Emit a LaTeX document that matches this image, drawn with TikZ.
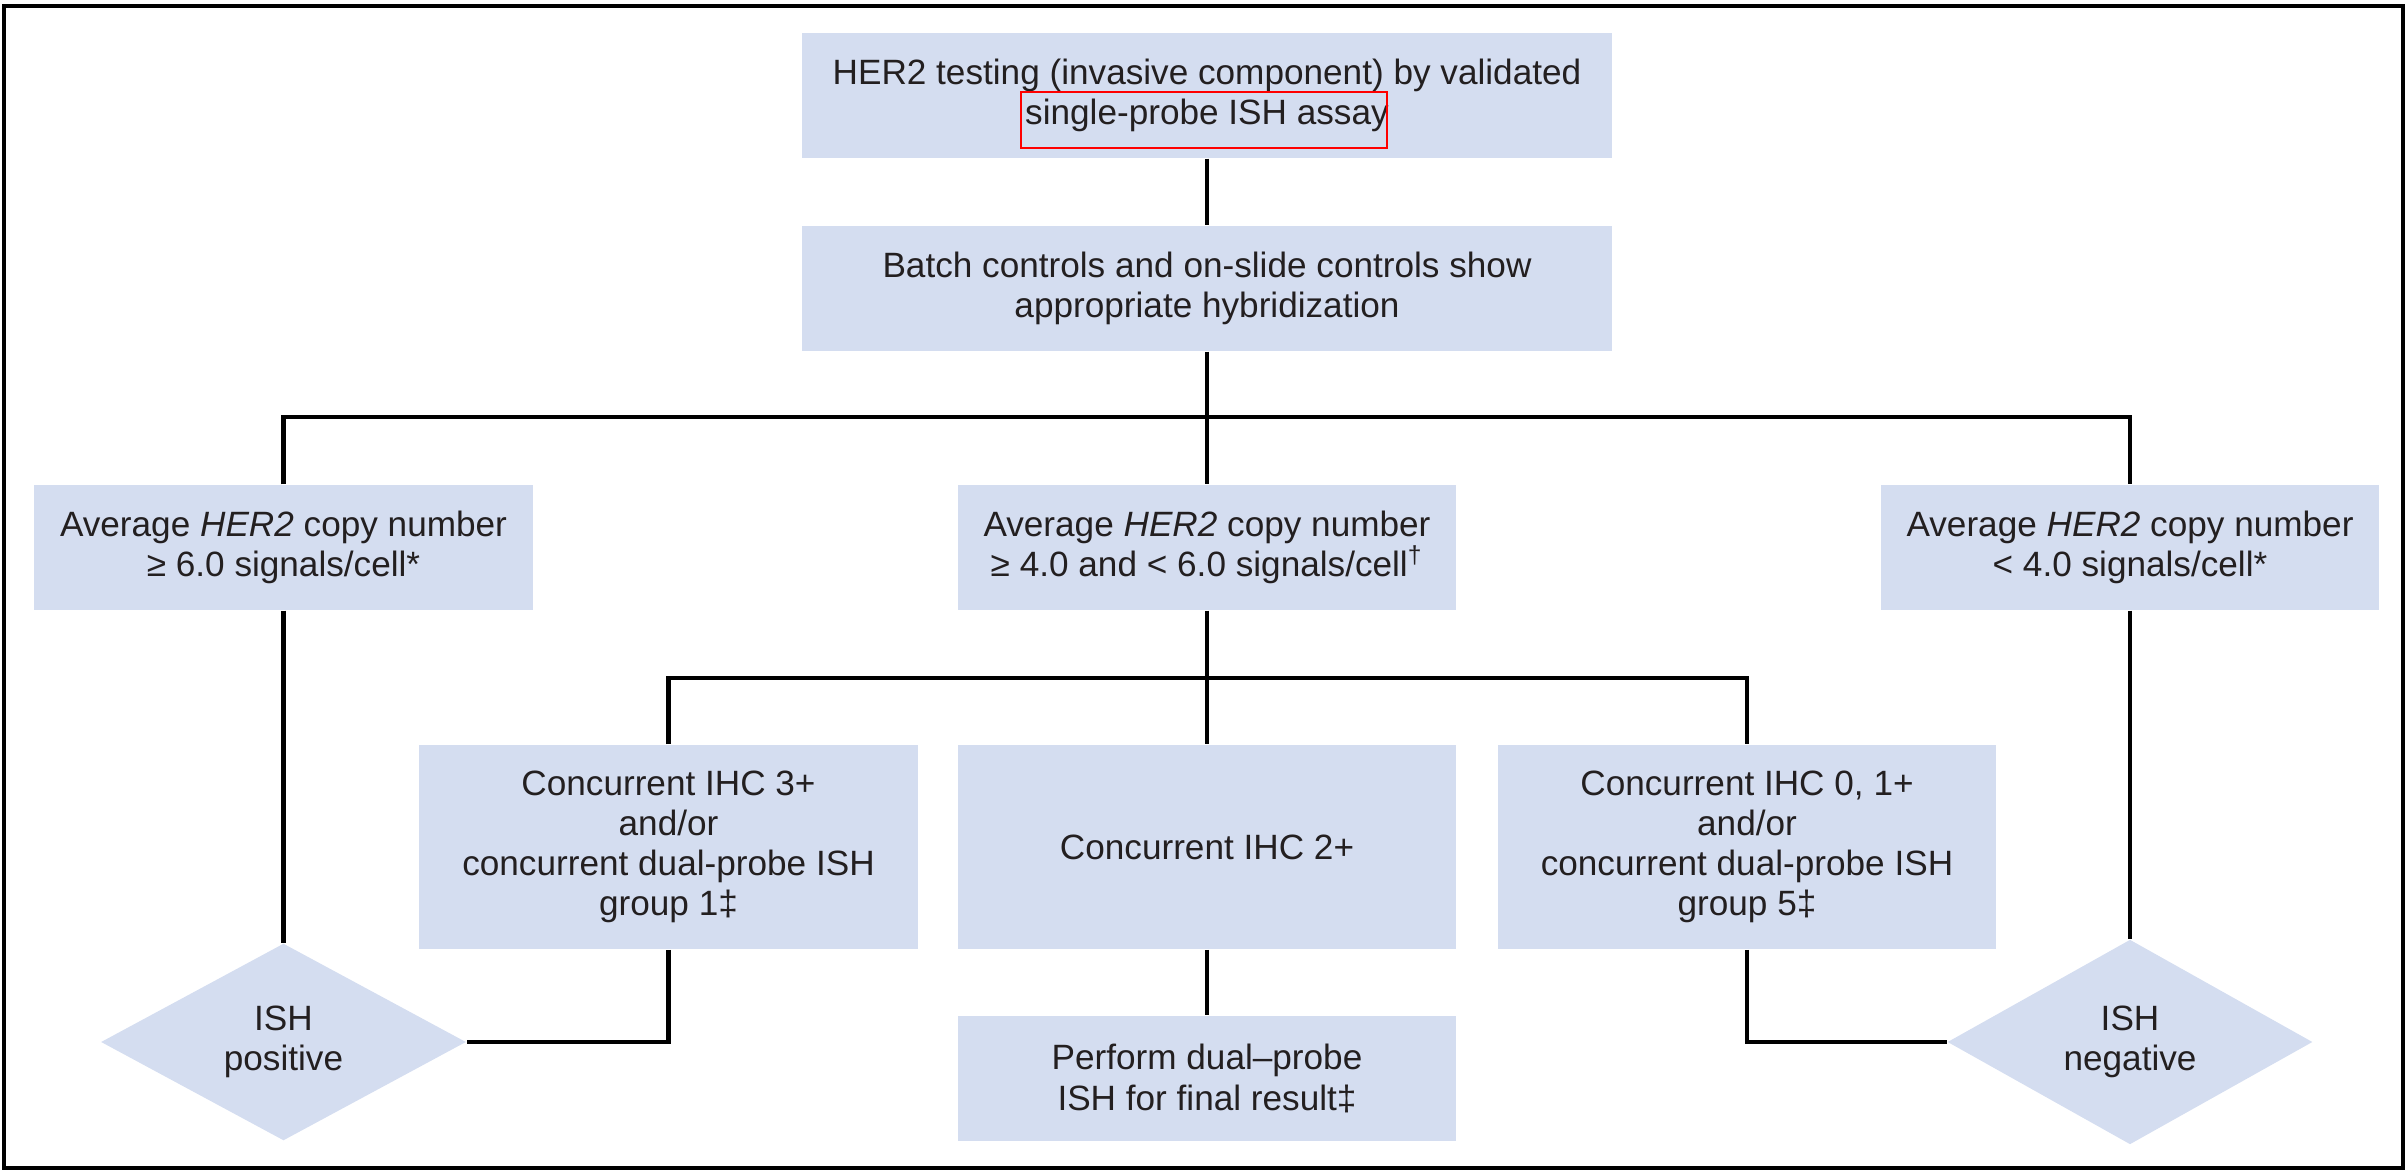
\documentclass[tikz,border=0pt]{standalone}
\usepackage{fontspec}
\setmainfont{Liberation Sans}
\usetikzlibrary{shapes.geometric}
\definecolor{boxfill}{RGB}{212,221,240}
\definecolor{ink}{RGB}{35,31,32}
\begin{document}
\begin{tikzpicture}[x=0.01cm,y=-0.01cm,
    font=\fontsize{10}{11.4}\selectfont, text=ink,
    box/.style={fill=boxfill, align=center, inner sep=0pt,
      minimum width=4.98cm, minimum height=1.25cm},
    decision/.style={diamond, fill=boxfill, align=center, inner sep=0pt,
      minimum width=3.65cm, minimum height=1.97cm},
    link/.style={line width=1.35pt, draw=black}]
    \useasboundingbox (0,0) rectangle (2407,1174);
    \draw[line width=0.9pt] (4,6) rectangle (2403,1168);
    % top of the chart
    \node[box, minimum width=8.1cm] (test) at (1207,95.5)
      {HER2 testing (invasive component) by validated\\single-probe ISH assay};
    \draw[red, line width=0.7pt] (1021,92) rectangle (1387,148);
    \node[box, minimum width=8.1cm] (batch) at (1207,288.5)
      {Batch controls and on-slide controls show\\appropriate hybridization};
    % copy number groups
    \node[box] (avgL) at (283.5,547.5)
      {Average \textit{HER2} copy number\\≥ 6.0 signals/cell*};
    \node[box] (avgM) at (1207,547.5)
      {Average \textit{HER2} copy number\\≥ 4.0 and < 6.0 signals/cell\textsuperscript{†}};
    \node[box] (avgR) at (2130,547.5)
      {Average \textit{HER2} copy number\\< 4.0 signals/cell*};
    % concurrent IHC
    \node[box, minimum height=2.04cm] (ihcA) at (668.5,847)
      {Concurrent IHC 3+\\and/or\\concurrent dual-probe ISH\\group 1‡};
    \node[box, minimum height=2.04cm] (ihcB) at (1207,847)
      {Concurrent IHC 2+};
    \node[box, minimum height=2.04cm] (ihcC) at (1747,847)
      {Concurrent IHC 0, 1+\\and/or\\concurrent dual-probe ISH\\group 5‡};
    \node[box] (dual) at (1207,1078.5)
      {Perform dual–probe\\ISH for final result‡};
    \node[decision] (posD) at (283.5,1042) {ISH\\positive};
    \node[decision] (negD) at (2130,1042) {ISH\\negative};
    \coordinate (barA) at (1207,417);
    \coordinate (barB) at (1207,678);
    % connectors
    \draw[link] (test) -- (batch);
    \draw[link] (batch) -- (barA) -- (avgM);
    \draw[link] (avgL.north) |- (barA) -| (avgR.north);
    \draw[link] (avgM) -- (barB) -- (ihcB);
    \draw[link] (ihcA.north) |- (barB) -| (ihcC.north);
    \draw[link] (ihcB) -- (dual);
    \draw[link] (avgL) -- (posD);
    \draw[link] (avgR) -- (negD);
    \draw[link] (ihcA.south) |- (posD.east);
    \draw[link] (ihcC.south) |- (negD.west);
\end{tikzpicture}
\end{document}
